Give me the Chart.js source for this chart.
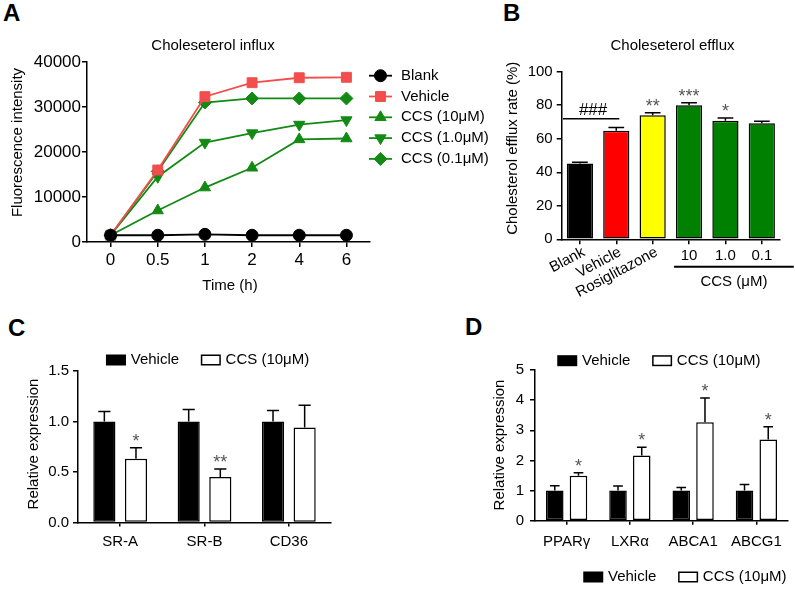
<!DOCTYPE html>
<html>
<head>
<meta charset="utf-8">
<script src="https://cdn.jsdelivr.net/npm/chart.js@4/dist/chart.umd.min.js"></script>
<style>
  body { margin: 0; background: #fff; }
  #page { position: relative; width: 795px; height: 592px; overflow: hidden; background: #fff; }
  #page canvas { position: absolute; }
  .tag { position: absolute; font: bold 24px "Liberation Sans", Arial, sans-serif; line-height: 24px; }
</style>
</head>
<body>
<div id="page">
  <div class="tag" style="left:3px;top:1px">A</div>
  <div class="tag" style="left:503px;top:1px">B</div>
  <div class="tag" style="left:8px;top:316px">C</div>
  <div class="tag" style="left:465px;top:315px">D</div>
  <canvas id="chartA" width="500" height="300" style="left:0;top:0"></canvas>
  <canvas id="chartB" width="395" height="300" style="left:400px;top:0"></canvas>
  <canvas id="chartC" width="400" height="292" style="left:0;top:300px"></canvas>
  <canvas id="chartD" width="395" height="292" style="left:400px;top:300px"></canvas>
</div>
<script>
// ── Data ──────────────────────────────────────────────────────────
// A: cholesterol influx (fluorescence)
const timePoints    = ['0', '0.5', '1', '2', '4', '6'];
const influxNames   = ['Blank', 'Vehicle', 'CCS (10μM)', 'CCS (1.0μM)', 'CCS (0.1μM)'];
const influxBlank   = [1500, 1500, 1700, 1500, 1500, 1500];
const influxVehicle = [1500, 16000, 32300, 35400, 36500, 36600];
const influxCcs10   = [1500, 7000, 12100, 16500, 22800, 23000];
const influxCcs1    = [1500, 14500, 22100, 24200, 26100, 27100];
const influxCcs01   = [1500, 15700, 31000, 31900, 31900, 31900];

// B: cholesterol efflux rate (%)
const effluxGroups = ['Blank', 'Vehicle', 'Rosiglitazone', '10', '1.0', '0.1'];
const effluxRate   = [45.3, 64.8, 74.0, 80.0, 70.8, 69.2];
const effluxSem    = [0.6, 1.9, 1.5, 1.5, 1.6, 1.2];
const effluxMarks  = ['', '', '**', '***', '*', ''];

// C: scavenger receptor expression
const scavGenes      = ['SR-A', 'SR-B', 'CD36'];
const scavVehicle    = [1.0, 1.0, 1.0];
const scavVehicleSem = [0.10, 0.12, 0.11];
const scavCcs        = [0.63, 0.45, 0.94];
const scavCcsSem     = [0.11, 0.08, 0.22];
const scavMarks      = ['*', '**', ''];

// D: efflux gene expression
const transGenes      = ['PPARγ', 'LXRα', 'ABCA1', 'ABCG1'];
const transVehicle    = [1.0, 1.0, 1.0, 1.0];
const transVehicleSem = [0.16, 0.15, 0.10, 0.20];
const transCcs        = [1.49, 2.16, 3.27, 2.69];
const transCcsSem     = [0.10, 0.28, 0.80, 0.43];
const transMarks      = ['*', '*', '*', '*'];

const legendNames = ['Vehicle', 'CCS (10μM)'];

// ── Style helpers ─────────────────────────────────────────────────
const FONT  = '"Liberation Sans", Arial, Helvetica, sans-serif';
const GREEN = '#138a13';
const RED   = '#f24e4e';

Chart.defaults.font.family = FONT;
Chart.defaults.color = '#000';
Chart.defaults.animation = false;
Chart.defaults.plugins.legend.display = false;
Chart.defaults.plugins.tooltip.enabled = false;

const axisBorder = { display: true, color: '#000', width: 1.5 };
function axisGrid(len) {
  return { display: true, drawOnChartArea: false, drawTicks: true, tickLength: len,
           color: '#000', lineWidth: 1.5, offset: false };
}

function text(ctx, str, x, y, size, o = {}) {
  ctx.save();
  ctx.font = (o.bold ? 'bold ' : '') + size + 'px ' + FONT;
  ctx.fillStyle = o.color || '#000';
  ctx.textAlign = o.align || 'center';
  ctx.textBaseline = o.baseline || 'middle';
  ctx.translate(x, y);
  if (o.rotate) ctx.rotate(o.rotate);
  ctx.fillText(str, 0, 0);
  ctx.restore();
}

function line(ctx, x1, y1, x2, y2, w) {
  ctx.save();
  ctx.strokeStyle = '#000';
  ctx.lineWidth = w;
  ctx.beginPath();
  ctx.moveTo(x1, y1);
  ctx.lineTo(x2, y2);
  ctx.stroke();
  ctx.restore();
}

// box legend (Vehicle / CCS) used by C and D
function boxLegend(chart, x, y) {
  const ctx = chart.ctx;
  ctx.save();
  ctx.font = '15px ' + FONT;
  chart.data.datasets.forEach(ds => {
    ctx.fillStyle = ds.backgroundColor;
    ctx.fillRect(x, y - 4.75, 18.5, 9.5);
    ctx.strokeStyle = '#000';
    ctx.lineWidth = 1.5;
    ctx.strokeRect(x, y - 4.75, 18.5, 9.5);
    text(ctx, ds.label, x + 24, y, 15, { align: 'left' });
    x += 24 + ctx.measureText(ds.label).width + 22.5;
  });
  ctx.restore();
}

// error bars + significance marks on top of bars
const errorBars = {
  id: 'errorBars',
  afterDatasetsDraw(chart) {
    const { ctx } = chart;
    const yScale = chart.scales.y;
    chart.data.datasets.forEach((ds, di) => {
      if (!ds.errors) return;
      chart.getDatasetMeta(di).data.forEach((bar, i) => {
        const top  = yScale.getPixelForValue(ds.data[i] + ds.errors[i]);
        const half = bar.width * (ds.capRatio || 0.55) / 2;
        ctx.save();
        ctx.strokeStyle = '#000';
        ctx.lineWidth = 1.5;
        ctx.beginPath();
        ctx.moveTo(bar.x, bar.y);
        ctx.lineTo(bar.x, top);
        ctx.moveTo(bar.x - half, top);
        ctx.lineTo(bar.x + half, top);
        ctx.stroke();
        ctx.restore();
        if (ds.marks && ds.marks[i]) {
          text(ctx, ds.marks[i], bar.x, top - 1, 18, { color: '#555', baseline: 'alphabetic' });
        }
      });
    });
  }
};
Chart.register(errorBars);

// ── A: line chart ─────────────────────────────────────────────────
function series(label, data, color, style, radius, rotation) {
  return {
    label, data,
    borderColor: color, borderWidth: 1.8,
    pointStyle: style, pointRadius: radius, pointRotation: rotation || 0,
    pointBackgroundColor: color, pointBorderColor: color, pointBorderWidth: 1,
    tension: 0, fill: false,
  };
}

new Chart(document.getElementById('chartA'), {
  type: 'line',
  data: {
    labels: timePoints,
    datasets: [
      series(influxNames[0], influxBlank,   '#000', 'circle',   6),
      series(influxNames[1], influxVehicle, RED,    'rect',     7),
      series(influxNames[2], influxCcs10,   GREEN,  'triangle', 6.5),
      series(influxNames[3], influxCcs1,    GREEN,  'triangle', 6.5, 180),
      series(influxNames[4], influxCcs01,   GREEN,  'rectRot',  6.5),
    ],
  },
  options: {
    responsive: false,
    layout: { padding: { top: 62, right: 130, bottom: 0, left: 0 } },
    scales: {
      x: {
        offset: true,
        grid: axisGrid(5), border: axisBorder,
        ticks: { font: { size: 17 }, padding: 3, maxRotation: 0, autoSkip: false },
        afterFit: s => { s.height = 58; },
      },
      y: {
        min: 0, max: 40000,
        grid: axisGrid(5), border: axisBorder,
        ticks: { stepSize: 10000, font: { size: 17 }, padding: 1, callback: v => String(v) },
        afterFit: s => { s.width = 87; },
      },
    },
  },
  plugins: [{
    id: 'decorA',
    afterDraw(chart) {
      const ctx = chart.ctx;
      text(ctx, 'Choleseterol influx', 213, 46, 15);
      text(ctx, 'Fluorescence intensity', 17.5, 142.5, 15, { rotate: -Math.PI / 2 });
      text(ctx, 'Time (h)', 230, 286, 15);
      chart.data.datasets.forEach((ds, i) => {
        const y = 75.7 + i * 20.8;
        ctx.save();
        ctx.strokeStyle = ds.borderColor;
        ctx.lineWidth = ds.borderWidth;
        ctx.beginPath();
        ctx.moveTo(369, y);
        ctx.lineTo(392, y);
        ctx.stroke();
        ctx.fillStyle = ds.pointBackgroundColor;
        ctx.strokeStyle = ds.pointBorderColor;
        ctx.lineWidth = 1;
        Chart.helpers.drawPoint(ctx, {
          pointStyle: ds.pointStyle, radius: ds.pointRadius,
          rotation: ds.pointRotation, borderWidth: 1,
        }, 380.5, y);
        ctx.restore();
        text(ctx, ds.label, 401, y, 15, { align: 'left' });
      });
    },
  }],
});

// ── B: efflux bar chart ───────────────────────────────────────────
new Chart(document.getElementById('chartB'), {
  type: 'bar',
  data: {
    labels: effluxGroups,
    datasets: [{
      data: effluxRate, errors: effluxSem, marks: effluxMarks, capRatio: 0.6,
      backgroundColor: ['#000000', '#ff0000', '#ffff00', '#008000', '#008000', '#008000'],
      borderColor: '#000', borderWidth: 1.5, borderSkipped: false,
      categoryPercentage: 0.8, barPercentage: 0.9,
    }],
  },
  options: {
    responsive: false,
    layout: { padding: { top: 71.7, right: 15, bottom: 0, left: 0 } },
    scales: {
      x: {
        grid: axisGrid(5), border: axisBorder,
        ticks: { display: false },
        afterFit: s => { s.height = 60.7; },
      },
      y: {
        min: 0, max: 100,
        grid: axisGrid(5), border: axisBorder,
        ticks: { stepSize: 20, font: { size: 15 }, padding: 4 },
        afterFit: s => { s.width = 161.7; },
      },
    },
  },
  plugins: [{
    id: 'decorB',
    afterDraw(chart) {
      const { ctx, chartArea: ca } = chart;
      const bars = chart.getDatasetMeta(0).data;
      text(ctx, 'Choleseterol efflux', 272.5, 46, 15);
      text(ctx, 'Cholesterol efflux rate (%)', 113, 148.3, 15, { rotate: -Math.PI / 2 });
      effluxGroups.forEach((g, i) => {
        const px = chart.scales.x.getPixelForValue(i);
        if (i < 3) text(ctx, g, px + 4, ca.bottom + 12, 15, { align: 'right', rotate: -28 * Math.PI / 180 });
        else text(ctx, g, px, ca.bottom + 16.4, 15);
      });
      const x1 = bars[3].x - 15, x2 = bars[5].x + 32, ly = ca.bottom + 27.4;
      line(ctx, x1, ly, x2, ly, 2);
      text(ctx, 'CCS (μM)', (x1 + x2) / 2, ly + 15, 15);
      const by = chart.scales.y.getPixelForValue(72);
      line(ctx, bars[0].x - 17, by, bars[1].x + 3, by, 1.5);
      text(ctx, '###', (bars[0].x + bars[1].x) / 2 - 5, by - 4, 17, { baseline: 'alphabetic' });
    },
  }],
});

// ── C & D: grouped bar charts ─────────────────────────────────────
function groupedBars(id, labels, veh, vehSem, ccs, ccsSem, marks, yMax, cfg) {
  return new Chart(document.getElementById(id), {
    type: 'bar',
    data: {
      labels,
      datasets: [
        { label: legendNames[0], data: veh, errors: vehSem,
          backgroundColor: '#000', borderColor: '#000', borderWidth: 1.5, borderSkipped: false,
          categoryPercentage: 0.75, barPercentage: cfg.barPct },
        { label: legendNames[1], data: ccs, errors: ccsSem, marks,
          backgroundColor: '#fff', borderColor: '#000', borderWidth: 1.5, borderSkipped: false,
          categoryPercentage: 0.75, barPercentage: cfg.barPct },
      ],
    },
    options: {
      responsive: false,
      layout: { padding: { top: cfg.top, right: cfg.right, bottom: 0, left: 0 } },
      scales: {
        x: {
          grid: axisGrid(4), border: axisBorder,
          ticks: { font: { size: 15 }, padding: cfg.xPad, maxRotation: 0, autoSkip: false },
          afterFit: s => { s.height = cfg.xHeight; },
        },
        y: {
          min: 0, max: yMax,
          grid: axisGrid(5), border: axisBorder,
          ticks: { stepSize: cfg.step, font: { size: 15 }, padding: cfg.yPad, callback: cfg.fmt },
          afterFit: s => { s.width = cfg.yWidth; },
        },
      },
    },
    plugins: [{
      id: 'decor' + id,
      afterDraw(chart) {
        text(chart.ctx, 'Relative expression', cfg.titleX, cfg.titleY, 15, { rotate: -Math.PI / 2 });
        cfg.legends.forEach(p => boxLegend(chart, p[0], p[1]));
      },
    }],
  });
}

groupedBars('chartC', scavGenes, scavVehicle, scavVehicleSem, scavCcs, scavCcsSem, scavMarks, 1.5, {
  barPct: 0.7, top: 71, right: 69, xHeight: 69.5, xPad: 6, yWidth: 78, yPad: 4, step: 0.5,
  fmt: v => v.toFixed(1), titleX: 34, titleY: 144, legends: [[106.7, 60]],
});

groupedBars('chartD', transGenes, transVehicle, transVehicleSem, transCcs, transCcsSem, transMarks, 5, {
  barPct: 0.74, top: 70, right: 7, xHeight: 71.3, xPad: 8, yWidth: 135, yPad: 6, step: 1,
  fmt: v => String(v), titleX: 100, titleY: 145, legends: [[158, 60.7], [184, 277]],
});
</script>
</body>
</html>
